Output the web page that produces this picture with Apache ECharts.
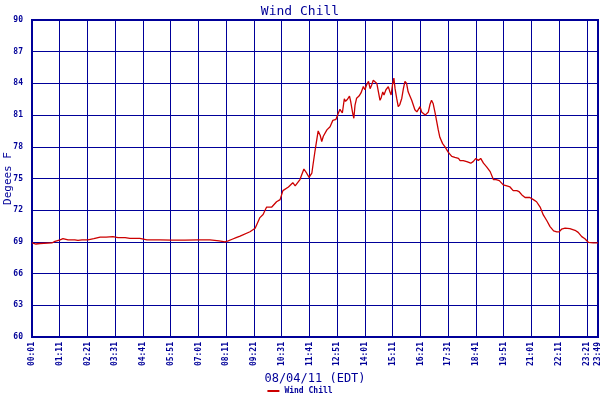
<!DOCTYPE html>
<html>
<head>
<meta charset="utf-8">
<script src="https://cdn.jsdelivr.net/npm/echarts@6/dist/echarts.min.js"></script>
<style>html,body{margin:0;padding:0;background:#fff}#c{width:600px;height:400px}</style>
</head>
<body>
<div id="c"></div>
<script>
var title = 'Wind Chill';
var yName = 'Degees F';
var xName = '08/04/11 (EDT)';
var yMin = 60, yMax = 90, yStep = 3;
var startClock = '00:01', endClock = '23:49', tickStepMin = 70;

var times = ['00:01','00:11','00:21','00:51','00:59','01:12','01:19','01:32','01:49','01:57','02:07','02:22','02:37','02:53','03:08','03:25','03:38','03:56','04:08','04:33','04:51','05:24','05:54','06:27','07:00','07:30','07:53','08:08','08:16','08:26','08:36','08:46','09:11','09:24','09:36','09:44','09:53','09:57','10:06','10:10','10:18','10:27','10:34','10:39','10:48','10:59','11:05','11:09','11:17','11:27','11:34','11:40','11:47','11:50','11:55','12:00','12:03','12:08','12:12','12:16','12:25','12:33','12:40','12:43','12:48','12:54','12:58','13:04','13:09','13:12','13:17','13:22','13:25','13:30','13:33','13:36','13:40','13:46','13:51','13:57','14:01','14:05','14:10','14:14','14:18','14:22','14:26','14:31','14:35','14:39','14:42','14:46','14:49','14:54','15:00','15:04','15:07','15:11','15:14','15:17','15:21','15:25','15:29','15:34','15:38','15:42','15:46','15:50','15:55','15:59','16:03','16:07','16:12','16:16','16:20','16:24','16:28','16:33','16:37','16:41','16:45','16:49','16:53','16:58','17:02','17:06','17:10','17:17','17:23','17:31','17:40','17:48','17:57','18:01','18:09','18:18','18:28','18:34','18:41','18:47','18:53','19:00','19:08','19:17','19:25','19:32','19:40','19:50','19:59','20:07','20:15','20:24','20:30','20:37','20:45','20:57','21:06','21:14','21:23','21:31','21:40','21:48','21:57','22:05','22:11','22:17','22:26','22:38','22:51','22:59','23:08','23:16','23:25','23:37','23:49'];

var windChill = [68.9,68.8,68.85,68.9,69.05,69.2,69.3,69.2,69.2,69.15,69.2,69.2,69.3,69.45,69.45,69.5,69.4,69.4,69.33,69.33,69.2,69.2,69.17,69.17,69.2,69.2,69.1,69.0,69.1,69.25,69.4,69.55,69.96,70.3,71.3,71.6,72.3,72.4,72.3,72.2,72.8,73.0,73.85,73.9,74.2,74.6,74.3,74.3,74.9,75.9,75.5,75.1,75.5,76.3,77.6,78.8,79.5,79.1,78.5,79.0,79.6,79.9,80.5,80.4,80.6,81.2,81.55,81.2,82.55,82.3,82.5,82.8,82.3,81.2,80.7,81.95,82.6,82.8,83.1,83.7,83.4,83.85,84.2,83.5,83.85,84.3,84.2,84.0,83.2,82.4,82.65,83.2,82.9,83.4,83.7,83.2,82.9,84.0,84.5,83.5,82.6,81.8,82.0,82.6,83.5,84.2,84.0,83.2,82.75,82.4,81.95,81.5,81.3,81.4,81.8,81.3,81.2,81.0,80.85,81.3,82.0,82.4,82.1,81.2,80.4,79.6,78.9,78.3,78.0,77.5,77.1,77.0,76.9,76.7,76.7,76.6,76.45,76.6,76.9,76.7,76.9,76.45,76.1,75.65,74.9,74.9,74.8,74.4,74.3,74.2,73.85,73.85,73.75,73.45,73.2,73.2,73.0,72.8,72.3,71.55,71.0,70.45,70.05,69.95,69.95,70.2,70.3,70.25,70.1,69.9,69.5,69.3,68.95,68.9,68.9];

function toMin(s){var p=s.split(':');return (+p[0])*60+(+p[1]);}
var t0 = toMin(startClock);
function fmt(m){var a=Math.round(m)+t0;var h=Math.floor(a/60),mm=a%60;return (h<10?'0':'')+h+':'+(mm<10?'0':'')+mm;}
var seriesData = times.map(function(t,i){return [toMin(t)-t0, windChill[i]];});

var navy = '#000099';
var mono = 'DejaVu Sans Mono';
var chart = echarts.init(document.getElementById('c'), null, {renderer:'canvas'});
chart.setOption({
  animation: false,
  backgroundColor: '#fff',
  title: {text: title, left: 'center', top: 0, textStyle: {fontFamily: mono, fontSize: 13, fontWeight: 'normal', color: navy}},
  grid: {left: 32, right: 2, top: 20, bottom: 63, show: true, borderColor: navy, borderWidth: 2, containLabel: false, outerBoundsMode: 'none'},
  legend: {bottom: 0, left: 'center', itemWidth: 12, itemHeight: 2, icon: 'rect', itemGap: 4,
    textStyle: {fontFamily: mono, fontSize: 8, fontWeight: 'bold', color: navy},
    data: [{name: title, itemStyle: {color: '#cc0000'}}]},
  xAxis: {type: 'value', min: 0, max: toMin(endClock)-t0, interval: tickStepMin,
    name: xName, nameLocation: 'middle', nameGap: 36, nameMoveOverlap: false,
    nameTextStyle: {fontFamily: mono, fontSize: 12, color: navy},
    axisLine: {show: true, lineStyle: {color: navy, width: 2}},
    axisTick: {show: false},
    axisLabel: {rotate: 90, fontFamily: mono, fontSize: 8, fontWeight: 'bold', color: navy, margin: 5, showMaxLabel: true, showMinLabel: true, formatter: fmt},
    splitLine: {show: true, lineStyle: {color: navy, width: 1}}},
  yAxis: {type: 'value', min: yMin, max: yMax, interval: yStep,
    name: yName, nameLocation: 'middle', nameGap: 18, nameRotate: 90, nameMoveOverlap: false,
    nameTextStyle: {fontFamily: mono, fontSize: 11, color: navy},
    axisLine: {show: true, lineStyle: {color: navy, width: 2}},
    axisTick: {show: false},
    axisLabel: {fontFamily: mono, fontSize: 8, fontWeight: 'bold', color: navy, margin: 9},
    splitLine: {show: true, lineStyle: {color: navy, width: 1}}},
  series: [{name: title, type: 'line', data: seriesData, showSymbol: false, symbol: 'none',
    lineStyle: {color: '#cc0000', width: 1.3}, itemStyle: {color: '#cc0000'}}]
});
</script>
</body>
</html>
